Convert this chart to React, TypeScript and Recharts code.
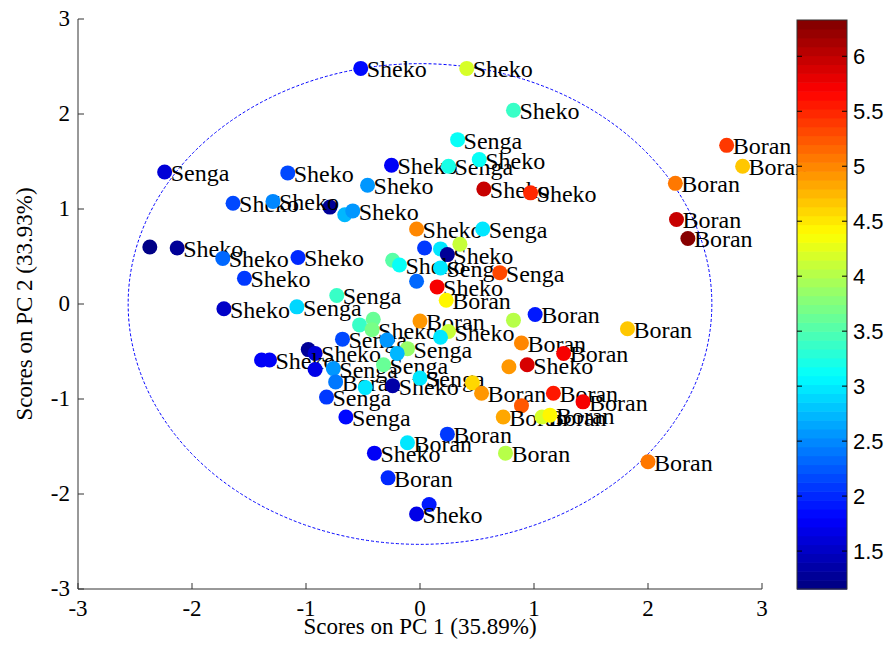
import React from "react";
import { ScatterChart, Scatter, XAxis, YAxis, ReferenceArea } from "recharts";

// ---- data ----
const pc1 = [
  -0.52, 0.41, 0.82, 0.33, -0.25, 0.25, 0.52, 0.56, 0.97, -0.46,
  -0.03, 0.55, -0.66, -0.59, -0.79, -1.64, -1.29, -2.24, -1.16, -2.37,
  -2.13, -1.73, -1.07, -1.54, -1.72, -1.08, -0.73, -0.53, -0.41, -0.42,
  -0.03, 0.15, 0.23, 0.0, 0.25, 0.18, -0.68, -0.98, -0.92, -1.39,
  -1.32, -0.92, -0.76, -0.74, -0.82, -0.65, -0.48, -0.24, -0.32, -0.11,
  0.0, -0.29, -0.2, 0.04, 0.18, 0.24, 0.35, -0.24, -0.18, 0.18,
  0.7, 2.69, 2.83, 2.24, 2.25, 2.35, 0.82, 1.01, 1.82, 0.89,
  1.26, 0.78, 0.94, 0.46, 0.54, 1.17, 1.43, 0.89, 0.73, 1.07,
  1.14, 0.24, -0.11, -0.4, -0.28, 0.08, -0.03, 0.75, 2.0,
];
const pc2 = [
  2.48, 2.48, 2.04, 1.73, 1.46, 1.45, 1.52, 1.21, 1.17, 1.25,
  0.79, 0.79, 0.94, 0.98, 1.02, 1.06, 1.08, 1.39, 1.38, 0.6,
  0.59, 0.48, 0.49, 0.27, -0.05, -0.03, 0.09, -0.22, -0.16, -0.27,
  0.24, 0.18, 0.04, -0.18, -0.29, -0.35, -0.37, -0.48, -0.52, -0.59,
  -0.59, -0.69, -0.68, -0.82, -0.98, -1.19, -0.88, -0.86, -0.64, -0.47,
  -0.78, -0.38, -0.52, 0.59, 0.58, 0.52, 0.63, 0.46, 0.41, 0.38,
  0.33, 1.67, 1.45, 1.27, 0.89, 0.69, -0.17, -0.11, -0.26, -0.41,
  -0.52, -0.66, -0.64, -0.83, -0.94, -0.94, -1.03, -1.07, -1.19, -1.19,
  -1.17, -1.37, -1.46, -1.57, -1.83, -2.11, -2.21, -1.57, -1.66,
];
const colorValue = [
  1.85, 4.2, 3.4, 3.1, 1.8, 3.25, 3.1, 6.0, 5.5, 2.6,
  5.0, 3.0, 2.7, 2.6, 1.3, 2.2, 2.5, 1.6, 2.2, 1.2,
  1.3, 2.3, 2.0, 2.1, 1.5, 2.9, 3.4, 3.4, 3.65, 3.7,
  2.3, 5.7, 4.4, 4.9, 4.1, 3.0, 2.2, 1.3, 1.6, 1.75,
  1.8, 1.7, 2.6, 2.4, 2.1, 1.85, 3.0, 1.35, 3.6, 3.85,
  3.0, 2.6, 2.7, 2.1, 3.0, 1.3, 4.1, 3.5, 3.1, 3.0,
  5.3, 5.4, 4.7, 5.1, 6.0, 6.3, 4.0, 1.9, 4.7, 5.0,
  5.7, 4.9, 5.9, 4.6, 4.9, 5.6, 5.75, 5.2, 4.8, 4.2,
  4.4, 2.1, 3.0, 1.8, 2.0, 1.9, 1.7, 4.0, 5.1,
];
const sampleLabel = [
  "Sheko", "Sheko", "Sheko", "Senga", "Sheko", "Senga", "Sheko", "Sheko", "Sheko", "Sheko",
  "Sheko", "Senga", "", "Sheko", "", "Sheko", "Sheko", "Senga", "Sheko", "",
  "Sheko", "Sheko", "Sheko", "Sheko", "Sheko", "Senga", "Senga", "", "", "Sheko",
  "", "Sheko", "Boran", "Boran", "Sheko", "", "Senga", "", "Sheko", "",
  "Sheko", "", "Senga", "Boran", "Senga", "Senga", "", "Sheko", "Senga", "Senga",
  "Senga", "", "", "", "", "Sheko", "", "", "Sheko", "Senga",
  "Senga", "Boran", "Boran", "Boran", "Boran", "Boran", "", "Boran", "Boran", "Boran",
  "Boran", "", "Sheko", "", "Boran", "Boran", "Boran", "", "Boran", "Boran",
  "Boran", "Boran", "Boran", "Sheko", "Boran", "", "Sheko", "Boran", "Boran",
];
const axisTicks = [-3, -2, -1, 0, 1, 2, 3];
const colorbarTicks = [1.5, 2, 2.5, 3, 3.5, 4, 4.5, 5, 5.5, 6];
const colorMin = 1.155;
const colorMax = 6.33;
const confidenceLimit = { x: 2.56, y: 2.53 };

const data = pc1.map((x, i) => ({ x, y: pc2[i], v: colorValue[i], label: sampleLabel[i] }));

// ---- jet colormap ----
const clamp = (a: number) => Math.max(0, Math.min(1, a));
function jet(t: number) {
  const r = clamp(1.5 - Math.abs(4 * t - 3));
  const g = clamp(1.5 - Math.abs(4 * t - 2));
  const b = clamp(1.5 - Math.abs(4 * t - 1));
  const h = (c: number) => Math.round(c * 255);
  return `rgb(${h(r)},${h(g)},${h(b)})`;
}
function valueColor(v: number) {
  const t = clamp((v - colorMin) / (colorMax - colorMin));
  const idx = Math.min(63, Math.floor(t * 64));
  return jet((idx + 0.5) / 64);
}

const SERIF = '"Liberation Serif", "Times New Roman", serif';
const SANS = '"Liberation Sans", Arial, sans-serif';
const AX = "#333";

const BottomTick = (p: any) => (
  <g>
    <line x1={p.x} x2={p.x} y1={p.y} y2={p.y - 6} stroke={AX} />
    <text x={p.x} y={p.y + 27} textAnchor="middle" fontFamily={SERIF} fontSize={23} fill="#000">
      {p.payload.value}
    </text>
  </g>
);
const LeftTick = (p: any) => (
  <g>
    <line x1={p.x} x2={p.x + 6} y1={p.y} y2={p.y} stroke={AX} />
    <text x={p.x - 8} y={p.y + 7} textAnchor="end" fontFamily={SERIF} fontSize={23} fill="#000">
      {p.payload.value}
    </text>
  </g>
);
const TopTick = (p: any) => <line x1={p.x} x2={p.x} y1={p.y} y2={p.y + 6} stroke={AX} />;
const RightTick = (p: any) => <line x1={p.x} x2={p.x - 6} y1={p.y} y2={p.y} stroke={AX} />;

const PointShape = (p: any) => {
  const { cx, cy, payload } = p;
  return (
    <g>
      <circle cx={cx} cy={cy} r={7.5} fill={valueColor(payload.v)} />
      {payload.label ? (
        <text x={cx + 6} y={cy + 9} fontFamily={SERIF} fontSize={24} fill="#000">
          {payload.label}
        </text>
      ) : null}
    </g>
  );
};

const EllipseShape = (p: any) => (
  <ellipse
    cx={p.x + p.width / 2}
    cy={p.y + p.height / 2}
    rx={Math.abs(p.width) / 2}
    ry={Math.abs(p.height) / 2}
    fill="none"
    stroke="#0000ff"
    strokeWidth={1}
    strokeDasharray="3 2"
  />
);

function Colorbar() {
  const x0 = 797, x1 = 847, top = 20, bottom = 589;
  const steps = 64;
  const h = (bottom - top) / steps;
  const yOf = (v: number) => bottom - ((v - colorMin) / (colorMax - colorMin)) * (bottom - top);
  const rects = [];
  for (let i = 0; i < steps; i++) {
    rects.push(
      <rect key={i} x={x0} y={bottom - (i + 1) * h} width={x1 - x0} height={h + 0.6} fill={jet((i + 0.5) / steps)} />
    );
  }
  return (
    <g>
      {rects}
      <rect x={x0} y={top} width={x1 - x0} height={bottom - top} fill="none" stroke={AX} />
      {colorbarTicks.map((v) => (
        <g key={v}>
          <line x1={x0} x2={x0 + 5} y1={yOf(v)} y2={yOf(v)} stroke="#000" />
          <line x1={x1} x2={x1 - 5} y1={yOf(v)} y2={yOf(v)} stroke="#000" />
          <text x={853} y={yOf(v) + 8} fontFamily={SANS} fontSize={22} fill="#000">
            {v}
          </text>
        </g>
      ))}
    </g>
  );
}

export default function App() {
  return (
    <div style={{ position: "absolute", left: 0, top: 0, width: 891, height: 655, background: "#fff" }}>
      <ScatterChart width={891} height={655} margin={{ top: 19, right: 129, bottom: 0, left: 0 }}>
        <XAxis
          type="number"
          dataKey="x"
          domain={[-3, 3]}
          ticks={axisTicks}
          interval={0}
          height={66}
          tickSize={0}
          tickMargin={0}
          tickLine={false}
          axisLine={{ stroke: AX }}
          tick={<BottomTick />}
        />
        <YAxis
          type="number"
          dataKey="y"
          domain={[-3, 3]}
          ticks={axisTicks}
          interval={0}
          width={78}
          tickSize={0}
          tickMargin={0}
          tickLine={false}
          axisLine={{ stroke: AX }}
          tick={<LeftTick />}
        />
        <XAxis
          xAxisId="top"
          orientation="top"
          type="number"
          domain={[-3, 3]}
          ticks={axisTicks}
          interval={0}
          height={0}
          tickSize={0}
          tickMargin={0}
          tickLine={false}
          axisLine={{ stroke: AX }}
          tick={<TopTick />}
        />
        <YAxis
          yAxisId="right"
          orientation="right"
          type="number"
          domain={[-3, 3]}
          ticks={axisTicks}
          interval={0}
          width={0}
          tickSize={0}
          tickMargin={0}
          tickLine={false}
          axisLine={{ stroke: AX }}
          tick={<RightTick />}
        />
        <ReferenceArea
          x1={-confidenceLimit.x}
          x2={confidenceLimit.x}
          y1={-confidenceLimit.y}
          y2={confidenceLimit.y}
          shape={EllipseShape}
        />
        <Scatter data={data} isAnimationActive={false} shape={PointShape} />
      </ScatterChart>
      <svg width={891} height={655} style={{ position: "absolute", left: 0, top: 0, pointerEvents: "none" }}>
        <Colorbar />
        <text x={420} y={634} textAnchor="middle" fontFamily={SERIF} fontSize={23} fill="#000">
          Scores on PC 1 (35.89%)
        </text>
        <text
          x={0}
          y={0}
          transform="translate(32,304) rotate(-90)"
          textAnchor="middle"
          fontFamily={SERIF}
          fontSize={23}
          fill="#000"
        >
          Scores on PC 2 (33.93%)
        </text>
      </svg>
    </div>
  );
}
